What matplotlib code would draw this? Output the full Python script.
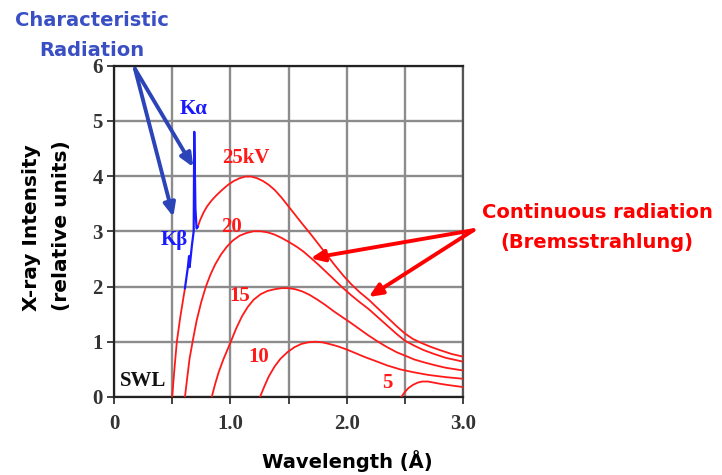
import matplotlib
matplotlib.use('Agg')
import matplotlib.pyplot as plt

# wavelength (A) / intensity
x25_lo = [0.50, 0.52, 0.54, 0.57, 0.61]
y25_lo = [0.00, 0.52, 1.00, 1.45, 1.97]
x25 = [0.72, 0.74, 0.77, 0.80, 0.84, 0.88, 0.93, 0.98, 1.03, 1.08, 1.13, 1.18, 1.23,
       1.28, 1.33, 1.38, 1.44, 1.50, 1.56, 1.62, 1.69, 1.76, 1.83, 1.90, 1.97, 2.04,
       2.11, 2.19, 2.27, 2.35, 2.43, 2.50, 2.57, 2.64, 2.72, 2.80, 2.90, 3.00]
y25 = [3.08, 3.20, 3.34, 3.45, 3.56, 3.65, 3.75, 3.84, 3.91, 3.96, 3.99, 3.99, 3.96,
       3.91, 3.84, 3.75, 3.61, 3.45, 3.29, 3.13, 2.95, 2.76, 2.57, 2.38, 2.20, 2.04,
       1.90, 1.76, 1.60, 1.44, 1.28, 1.15, 1.05, 0.98, 0.91, 0.85, 0.78, 0.73]

x20 = [0.61, 0.63, 0.65, 0.68, 0.71, 0.75, 0.79, 0.83, 0.87, 0.92, 0.97, 1.02, 1.08,
       1.14, 1.20, 1.26, 1.32, 1.38, 1.44, 1.50, 1.57, 1.63, 1.69, 1.76, 1.83, 1.90,
       1.97, 2.04, 2.11, 2.19, 2.27, 2.35, 2.43, 2.50, 2.58, 2.66, 2.75, 2.85, 3.00]
y20 = [0.00, 0.36, 0.70, 1.05, 1.38, 1.72, 2.00, 2.22, 2.40, 2.58, 2.72, 2.83, 2.92,
       2.97, 3.00, 3.00, 2.98, 2.94, 2.88, 2.81, 2.72, 2.63, 2.52, 2.39, 2.25, 2.11,
       1.97, 1.84, 1.72, 1.59, 1.44, 1.29, 1.14, 1.02, 0.93, 0.85, 0.78, 0.71, 0.64]

x15 = [0.84, 0.87, 0.90, 0.94, 1.00, 1.05, 1.10, 1.15, 1.20, 1.26, 1.32, 1.38, 1.44,
       1.50, 1.56, 1.62, 1.68, 1.75, 1.82, 1.89, 1.96, 2.03, 2.11, 2.19, 2.27, 2.35,
       2.43, 2.50, 2.58, 2.66, 2.75, 2.85, 3.00]
y15 = [0.00, 0.24, 0.45, 0.68, 0.98, 1.24, 1.46, 1.63, 1.76, 1.86, 1.92, 1.95, 1.97,
       1.97, 1.95, 1.91, 1.85, 1.76, 1.66, 1.55, 1.45, 1.35, 1.23, 1.11, 1.00, 0.90,
       0.81, 0.75, 0.68, 0.63, 0.58, 0.53, 0.48]

x10 = [1.255, 1.29, 1.33, 1.38, 1.43, 1.49, 1.55, 1.61, 1.67, 1.73, 1.79, 1.85, 1.92,
       2.00, 2.08, 2.16, 2.25, 2.35, 2.46, 2.57, 2.70, 2.85, 3.00]
y10 = [0.00, 0.18, 0.37, 0.55, 0.69, 0.81, 0.90, 0.96, 0.99, 1.00, 0.99, 0.96, 0.92,
       0.86, 0.79, 0.72, 0.65, 0.57, 0.50, 0.45, 0.40, 0.36, 0.33]

x5 = [2.47, 2.50, 2.53, 2.57, 2.61, 2.65, 2.70, 2.75, 2.80, 2.86, 2.93, 3.00]
y5 = [0.00, 0.09, 0.16, 0.22, 0.26, 0.28, 0.28, 0.26, 0.24, 0.22, 0.20, 0.18]

# characteristic lines (K-beta notch, K-alpha spike)
xk = [0.61, 0.635, 0.645, 0.650, 0.655, 0.670, 0.685, 0.690, 0.700, 0.710, 0.72]
yk = [1.97, 2.35, 2.55, 2.35, 2.45, 2.75, 3.00, 4.80, 3.40, 3.05, 3.08]

curve_labels = ['25kV', '20', '15', '10', '5']
label_pos = [(1.13, 4.32), (1.01, 3.07), (1.08, 1.83), (1.24, 0.72), (2.35, 0.25)]

W, H = 722, 475
fig = plt.figure(figsize=(W / 100, H / 100), dpi=100)
ax = fig.add_axes([114 / W, 1 - 397 / H, 349 / W, 331.5 / H])

red = '#ff1a1a'
blue = '#1a1aff'
arrow_blue = '#2b44b8'

for xs, ys in [(x25_lo, y25_lo), (x25, y25), (x20, y20), (x15, y15), (x10, y10), (x5, y5)]:
    ax.plot(xs, ys, color=red, lw=1.3, zorder=3)
ax.plot(xk, yk, color=blue, lw=1.6, zorder=4)

serif = 'Liberation Serif'
for lab, (lx, ly) in zip(curve_labels, label_pos):
    ax.text(lx, ly, lab, color=red, fontsize=15, fontweight='bold', family=serif,
            ha='center', va='center', zorder=5)
ax.text(0.68, 5.22, 'K\u03b1', color=blue, fontsize=15, fontweight='bold', family=serif,
        ha='center', va='center')
ax.text(0.52, 2.84, 'K\u03b2', color=blue, fontsize=15, fontweight='bold', family=serif,
        ha='center', va='center')
ax.text(0.25, 0.29, 'SWL', color='#111111', fontsize=15, fontweight='bold', family=serif,
        ha='center', va='center')

ax.set_xlim(0, 3.0)
ax.set_ylim(0, 6)
ax.set_xticks([0, 0.5, 1.0, 1.5, 2.0, 2.5, 3.0])
ax.set_xticklabels(['0', '', '1.0', '', '2.0', '', '3.0'])
ax.set_yticks(range(7))
for t in ax.get_xticklabels() + ax.get_yticklabels():
    t.set_family(serif)
    t.set_fontweight('bold')
    t.set_fontsize(15)
    t.set_color('#333333')
ax.tick_params(direction='out', length=5, width=1.3, color='#333333', pad=3)
ax.tick_params(axis='x', pad=7)
ax.grid(True, color='#8c8c8c', lw=1.7, zorder=0)
ax.set_axisbelow(True)
for side in ['left', 'bottom', 'top']:
    ax.spines[side].set_linewidth(1.6)
    ax.spines[side].set_color('#222222')
ax.spines['right'].set_linewidth(1.6)
ax.spines['right'].set_color('#555555')

sans = 'DejaVu Sans'
fig.text(347 / W, 1 - 461 / H, 'Wavelength (\u00c5)', fontsize=14, fontweight='bold',
         family=sans, ha='center', va='center')
fig.text(32 / W, 1 - 228 / H, 'X-ray Intensity', fontsize=14.5, fontweight='bold',
         family=sans, ha='center', va='center', rotation=90)
fig.text(61 / W, 1 - 226 / H, '(relative units)', fontsize=14.5, fontweight='bold',
         family=sans, ha='center', va='center', rotation=90)

# annotations
fig.text(92 / W, 1 - 20 / H, 'Characteristic', color='#3a4fc4', fontsize=14,
         fontweight='bold', family=sans, ha='center', va='center')
fig.text(92 / W, 1 - 50 / H, 'Radiation', color='#3a4fc4', fontsize=14,
         fontweight='bold', family=sans, ha='center', va='center')
for tx, ty in [(0.682, 4.16), (0.51, 3.26)]:
    ax.annotate('', xy=(tx, ty), xytext=(0.18, 5.94), xycoords='data',
                arrowprops=dict(arrowstyle='-|>,head_length=0.8,head_width=0.35',
                                lw=2.8, color=arrow_blue, shrinkA=0, shrinkB=0),
                annotation_clip=False)

fig.text(597 / W, 1 - 212 / H, 'Continuous radiation', color='#ff0000', fontsize=14,
         fontweight='bold', family=sans, ha='center', va='center')
fig.text(597 / W, 1 - 242 / H, '(Bremsstrahlung)', color='#ff0000', fontsize=14,
         fontweight='bold', family=sans, ha='center', va='center')
for tx, ty in [(1.69, 2.51), (2.19, 1.81)]:
    ax.annotate('', xy=(tx, ty), xytext=(3.09, 3.02), xycoords='data',
                arrowprops=dict(arrowstyle='-|>,head_length=0.8,head_width=0.35',
                                lw=2.8, color='#ff0000', shrinkA=0, shrinkB=0),
                annotation_clip=False)

fig.savefig('out.png', dpi=100)
